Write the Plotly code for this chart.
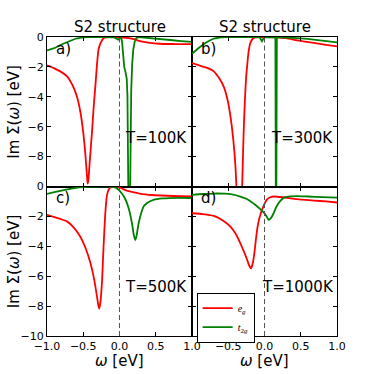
import plotly.graph_objects as go
from plotly.subplots import make_subplots

# frequency grid (eV) and Im Sigma (eV), one list per curve

# a) T=100K
w_eg_100 = [-1.0, -0.9, -0.8, -0.72, -0.65, -0.59, -0.54, -0.5, -0.47, -0.45, -0.44, -0.43,
            -0.41, -0.38, -0.355, -0.33, -0.31, -0.29, -0.26, -0.22, -0.18, -0.1, 0.0, 0.1,
            0.2, 0.3, 0.42, 0.55, 0.75, 1.0]
im_eg_100 = [-1.9, -2.1, -2.35, -2.65, -3.2, -3.95, -5.0, -6.4, -7.9, -9.2, -9.8, -9.6,
             -8.3, -6.4, -4.6, -3.1, -1.8, -0.85, -0.4, -0.08, -0.02, 0.0, -0.02, -0.05,
             -0.15, -0.3, -0.4, -0.45, -0.47, -0.48]
w_t2g_100 = [-1.0, -0.9, -0.8, -0.7, -0.6, -0.5, -0.4, -0.2, -0.08, -0.04, -0.02, 0.0,
             0.02, 0.035, 0.05, 0.065, 0.085, 0.1, 0.11, 0.118, 0.123, 0.145, 0.152, 0.162,
             0.175, 0.19, 0.21, 0.23, 0.26, 0.35, 0.5, 0.7, 0.85, 1.0]
im_t2g_100 = [-0.9, -0.75, -0.5, -0.28, -0.1, -0.03, 0.0, 0.0, -0.02, -0.12, -0.18, -0.1,
              -0.02, -0.3, -1.5, -2.0, -2.4, -2.8, -4.0, -7.0, -11.0, -11.0, -7.0, -3.5,
              -1.8, -0.85, -0.3, -0.08, 0.0, -0.05, -0.12, -0.2, -0.27, -0.33]

# b) T=300K
w_eg_300 = [-1.0, -0.9, -0.8, -0.7, -0.62, -0.56, -0.51, -0.47, -0.43, -0.4, -0.385, -0.375,
            -0.325, -0.31, -0.3, -0.288, -0.27, -0.255, -0.24, -0.22, -0.196, -0.16, -0.127,
            0.0, 0.15, 0.3, 0.45, 0.58, 0.68, 0.85, 1.0]
im_eg_300 = [-1.75, -1.9, -2.05, -2.3, -2.8, -3.35, -4.2, -5.3, -6.9, -8.7, -10.3, -11.5,
             -11.5, -10.2, -8.5, -6.4, -4.2, -2.8, -1.97, -1.0, -0.4, -0.1, -0.02,
             0.0, -0.02, -0.08, -0.23, -0.33, -0.4, -0.52, -0.63]
w_t2g_300 = [-1.0, -0.9, -0.8, -0.7, -0.6, -0.5, -0.1, -0.07, -0.035, -0.005, 0.02, 0.15,
             0.157, 0.163, 0.17, 0.3, 0.45, 0.59, 0.75, 0.88, 1.0]
im_t2g_300 = [-1.12, -0.7, -0.35, -0.1, -0.02, 0.0, 0.0, 0.0, -0.28, -0.02, -0.02, 0.0,
              -12.0, -12.0, 0.0, -0.02, -0.07, -0.13, -0.22, -0.3, -0.36]

# c) T=500K
w_eg_500 = [-1.0, -0.9, -0.8, -0.72, -0.63, -0.54, -0.47, -0.4, -0.35, -0.31, -0.29, -0.279,
            -0.265, -0.25, -0.24, -0.22, -0.196, -0.172, -0.15, -0.12, -0.08, -0.01, 0.1,
            0.2, 0.29, 0.45, 0.655, 0.85, 1.0]
im_eg_500 = [-1.9, -2.05, -2.2, -2.35, -2.75, -3.36, -4.1, -5.14, -6.2, -7.38, -8.0, -8.16,
             -7.8, -7.0, -6.26, -4.03, -1.79, -0.56, -0.22, -0.05, 0.0, -0.05, -0.27,
             -0.4, -0.49, -0.57, -0.62, -0.65, -0.67]
w_t2g_500 = [-1.0, -0.9, -0.8, -0.7, -0.6, -0.5, -0.4, -0.3, -0.15, -0.08, -0.012, 0.03,
             0.07, 0.103, 0.14, 0.172, 0.2, 0.218, 0.235, 0.264, 0.3, 0.333, 0.38, 0.47,
             0.6, 0.8, 1.0]
im_t2g_500 = [-0.49, -0.38, -0.27, -0.17, -0.09, -0.04, -0.01, 0.0, 0.0, -0.03, -0.22, -0.45,
              -0.75, -1.11, -1.7, -2.46, -3.3, -3.58, -3.3, -2.46, -1.75, -1.34, -1.1, -0.89,
              -0.8, -0.76, -0.77]

# d) T=1000K
w_eg_1000 = [-1.0, -0.85, -0.7, -0.58, -0.47, -0.4, -0.333, -0.28, -0.24, -0.21, -0.186,
             -0.165, -0.14, -0.12, -0.095, -0.07, -0.034, 0.03, 0.08, 0.126, 0.25, 0.448,
             0.68, 0.85, 1.0]
im_eg_1000 = [-1.79, -1.85, -1.97, -2.25, -2.68, -3.15, -3.8, -4.4, -4.9, -5.3, -5.48,
              -5.2, -4.47, -3.6, -2.68, -2.1, -1.56, -0.89, -0.72, -0.67, -0.72, -0.85,
              -0.94, -1.0, -1.07]
w_t2g_1000 = [-1.0, -0.85, -0.7, -0.55, -0.45, -0.333, -0.25, -0.19, -0.12, -0.058, 0.0,
              0.03, 0.057, 0.09, 0.126, 0.16, 0.195, 0.24, 0.287, 0.35, 0.45, 0.6, 0.8, 1.0]
im_t2g_1000 = [-0.56, -0.5, -0.47, -0.48, -0.53, -0.67, -0.82, -1.0, -1.25, -1.52, -1.8,
               -2.01, -2.23, -2.1, -1.79, -1.4, -1.11, -0.85, -0.71, -0.66, -0.64, -0.67,
               -0.71, -0.75]

panel_labels = ["a)", "b)", "c)", "d)"]
temperatures = ["T=100K", "T=300K", "T=500K", "T=1000K"]
eg_curves = [(w_eg_100, im_eg_100), (w_eg_300, im_eg_300), (w_eg_500, im_eg_500), (w_eg_1000, im_eg_1000)]
t2g_curves = [(w_t2g_100, im_t2g_100), (w_t2g_300, im_t2g_300), (w_t2g_500, im_t2g_500),
              (w_t2g_1000, im_t2g_1000)]
cells = [(1, 1), (1, 2), (2, 1), (2, 2)]

x_ticks = [-1.0, -0.5, 0.0, 0.5, 1.0]
x_ticktext = ["−1.0", "−0.5", "0.0", "0.5", "1.0"]
y_ticks = [0, -2, -4, -6, -8, -10]
y_ticktext = ["0", "−2", "−4", "−6", "−8", "−10"]

FONT = "DejaVu Sans"
RED = "#ff0000"
GREEN = "#008000"

fig = make_subplots(rows=2, cols=2, horizontal_spacing=0, vertical_spacing=0)

for i, (row, col) in enumerate(cells):
    last = i == 3
    # the sharp low-T features would overshoot with a spline, keep them straight
    shape = dict(shape="linear") if i < 2 else dict(shape="spline", smoothing=0.6)
    fig.add_trace(
        go.Scatter(x=eg_curves[i][0], y=eg_curves[i][1], mode="lines",
                   line=dict(color=RED, width=1.8, shape="spline", smoothing=0.5),
                   name="<i>e<sub>g</sub></i>", showlegend=last),
        row=row, col=col,
    )
    fig.add_trace(
        go.Scatter(x=t2g_curves[i][0], y=t2g_curves[i][1], mode="lines",
                   line=dict(color=GREEN, width=1.8, **shape),
                   name="<i>t</i><sub>2<i>g</i></sub>", showlegend=last),
        row=row, col=col,
    )

fig.add_vline(x=0, row="all", col="all", line=dict(color="#555555", width=1, dash="5px,3px"))

axis_common = dict(
    showline=True, linecolor="black", linewidth=1, mirror="allticks",
    ticks="inside", ticklen=4, tickcolor="black", showgrid=False, zeroline=False,
    automargin=False, tickfont=dict(family=FONT, size=11, color="black"),
)
label_font = dict(family=FONT, size=15, color="black")

for i, (row, col) in enumerate(cells):
    ax = "" if i == 0 else str(i + 1)
    if row == 2:
        k = 0 if col == 1 else 1  # right panel drops the -1.0 label
        fig.update_xaxes(tickvals=x_ticks[k:], ticktext=x_ticktext[k:], showticklabels=True,
                         row=row, col=col)
        fig.add_annotation(text="<i>ω</i> [eV]", xref=f"x{ax} domain", yref="paper",
                           x=0.5, y=0, xanchor="center", yanchor="middle", yshift=-25,
                           showarrow=False, font=label_font)
    else:
        fig.update_xaxes(tickvals=x_ticks, showticklabels=False, row=row, col=col)
    fig.update_xaxes(range=[-1, 1], **axis_common, row=row, col=col)

    if col == 1:
        n = 6 if row == 2 else 5  # top panel leaves -10 to the "0" below
        fig.update_yaxes(tickvals=y_ticks[:n], ticktext=y_ticktext[:n], showticklabels=True,
                         row=row, col=col)
        fig.add_annotation(text="Im Σ(<i>ω</i>) [eV]", xref="paper", yref=f"y{ax} domain",
                           x=0, y=0.5, xanchor="center", yanchor="middle", xshift=-33,
                           textangle=-90, showarrow=False, font=label_font)
    else:
        fig.update_yaxes(tickvals=y_ticks, showticklabels=False, row=row, col=col)
    fig.update_yaxes(range=[-10, 0], **axis_common, row=row, col=col)

    fig.add_annotation(text=panel_labels[i], xref=f"x{ax} domain", yref=f"y{ax} domain",
                       x=0.05, y=0.922, xanchor="left", yanchor="middle", showarrow=False,
                       font=label_font)
    fig.add_annotation(text=temperatures[i], xref=f"x{ax} domain", yref=f"y{ax} domain",
                       x=[0.978, 0.985, 0.98, 0.992][i], y=0.326, xanchor="right", yanchor="middle",
                       showarrow=False, font=label_font)
    if row == 1:
        fig.add_annotation(text="S2 structure", xref=f"x{ax} domain", yref="paper",
                           x=0.5, y=1.0, xanchor="center", yanchor="bottom", yshift=-1,
                           showarrow=False, font=label_font)

fig.update_layout(
    width=374, height=374,
    margin=dict(l=47, r=37, t=37, b=38, autoexpand=False),
    paper_bgcolor="white", plot_bgcolor="white",
    font=dict(family=FONT, color="black"),
    legend=dict(x=0.516, y=0.145, xanchor="left", yanchor="top",
                bgcolor="white", bordercolor="black", borderwidth=1,
                font=dict(family="Liberation Serif", size=10, color="black"),
                itemwidth=30, tracegroupgap=0),
)

# drop the browser's default 8px body margin so the figure sits at the page corner
fig.write_html("out.html", config={"displayModeBar": False},
               post_script="document.body.style.margin = '0px';")
